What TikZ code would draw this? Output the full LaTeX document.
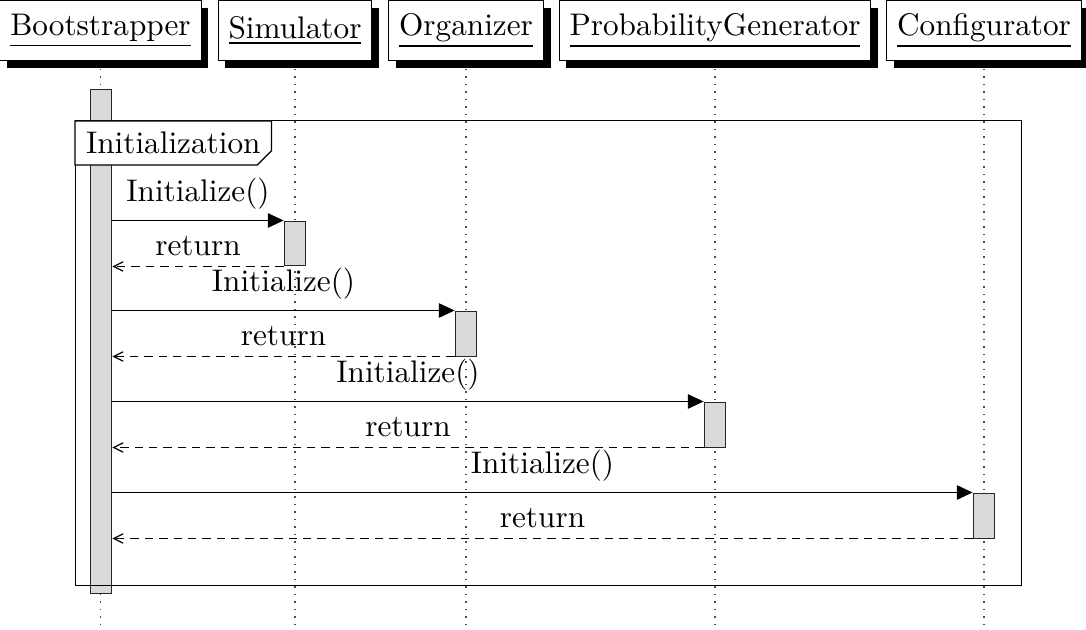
\documentclass[tikz,border=0pt]{standalone}
\usetikzlibrary{arrows.meta,shadows,calc}
\pgfdeclarelayer{tagfill}
\pgfdeclarelayer{tagtext}
\pgfsetlayers{main,tagfill,tagtext}
\begin{document}
\begin{tikzpicture}[x=0.32pt,y=-0.32pt, line width=0.32pt,
  inst/.style={draw, fill=white, minimum height=19.2pt, inner sep=3.33pt,
    drop shadow={shadow xshift=2.3pt, shadow yshift=-2.5pt, fill=black, opacity=1}},
  lifeline/.style={line width=0.4pt, dotted, black!70},
  actbar/.style={draw=black!85, fill=black!15, minimum width=7pt, inner sep=0pt},
  callbar/.style={actbar, minimum height=14.4pt},
  call/.style={-{Triangle[length=5pt,width=4.6pt]}},
  ret/.style={dash pattern=on 2.7pt off 1.9pt, -{Straight Barb[length=3pt,width=3pt]}},
  msg/.style={midway, above}]

\useasboundingbox (0,0) rectangle (1086,630);
\coordinate (bottom) at (0,630);

% instances
\node[inst] (boot) at (100.5,30.5) {\underline{Bootstrapper}};
\node[inst] (sim)  at (295,30.5)   {\underline{Simulator}};
\node[inst] (org)  at (466,30.5)   {\underline{Organizer}};
\node[inst] (prob) at (715,30.5)   {\underline{ProbabilityGenerator}};
\node[inst] (conf) at (984,30.5)   {\underline{Configurator}};

% lifelines
\foreach \n in {boot,sim,org,prob,conf}
  \draw[lifeline] ([yshift=-2.5pt]\n.south) -- (\n.south |- bottom);

% activation bars
\node[actbar, minimum height=161pt] (bootbar) at (101,341.5) {};
\node[callbar] (simbar)  at (295,243.5) {};
\node[callbar] (orgbar)  at (466,333.5) {};
\node[callbar] (probbar) at (715,424.5) {};
\node[callbar] (confbar) at (984,515.5) {};

% frame
\coordinate (fnw) at (75,121);
\coordinate (fse) at (1021,585);
\draw (fnw) rectangle (fse);
\begin{pgfonlayer}{tagtext}
  \node[anchor=north west, inner sep=3.33pt] (tag) at (fnw) {Initialization};
\end{pgfonlayer}
\begin{pgfonlayer}{tagfill}
  \draw[fill=white] (tag.north west) -- (tag.north east)
    -- ([yshift=4.6pt]tag.south east) -- ([xshift=-4.6pt]tag.south east)
    -- (tag.south west) -- cycle;
\end{pgfonlayer}

% messages
\draw[call] (bootbar.east |- simbar.north) -- (simbar.north west) node[msg] {Initialize()};
\draw[ret] (simbar.south west) -- (bootbar.east |- simbar.south) node[msg] {return};
\draw[call] (bootbar.east |- orgbar.north) -- (orgbar.north west) node[msg] {Initialize()};
\draw[ret] (orgbar.south west) -- (bootbar.east |- orgbar.south) node[msg] {return};
\draw[call] (bootbar.east |- probbar.north) -- (probbar.north west) node[msg] {Initialize()};
\draw[ret] (probbar.south west) -- (bootbar.east |- probbar.south) node[msg] {return};
\draw[call] (bootbar.east |- confbar.north) -- (confbar.north west) node[msg] {Initialize()};
\draw[ret] (confbar.south west) -- (bootbar.east |- confbar.south) node[msg] {return};
\end{tikzpicture}
\end{document}
